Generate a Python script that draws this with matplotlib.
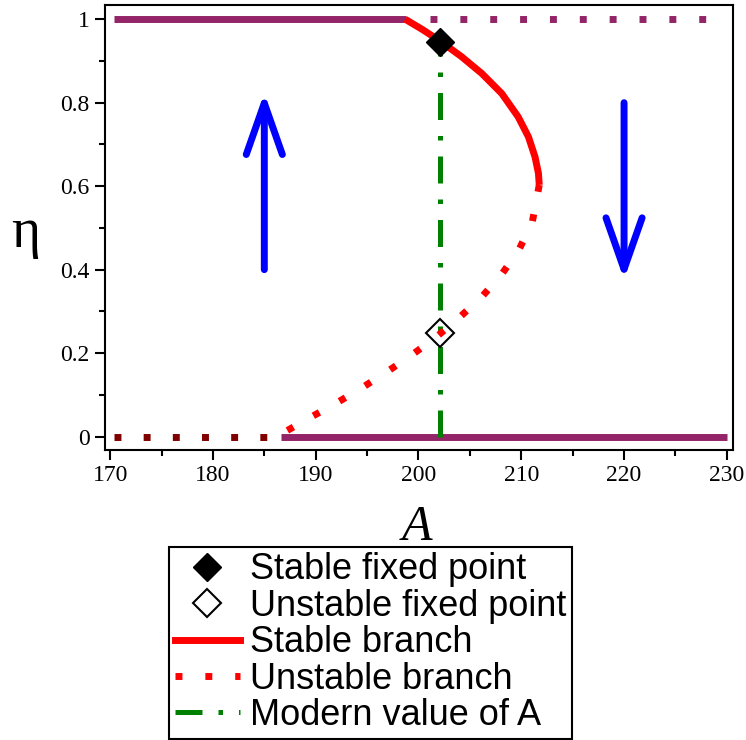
import matplotlib
matplotlib.use("Agg")
import matplotlib.pyplot as plt
from matplotlib.patches import FancyArrowPatch
from matplotlib.ticker import MultipleLocator

# branch data (A, eta)
stable_A = [198.7, 200.4, 202.2, 204.2, 206.16, 208.1, 209.7, 210.7, 211.34, 211.67, 211.75]
stable_eta = [1.0, 0.975, 0.946, 0.910, 0.870, 0.822, 0.766, 0.718, 0.670, 0.631, 0.603]
unstable_A = [211.75, 211.6, 211.08, 209.8, 208.1, 206.2, 204.05, 201.84, 199.43, 196.97, 194.5,
              191.98, 189.4, 186.9, 186.5]
unstable_eta = [0.603, 0.583, 0.515, 0.449, 0.389, 0.336, 0.287, 0.241, 0.197, 0.156, 0.117,
                0.080, 0.045, 0.010, 0.0]

top_solid_A = [170.4, 198.8]
top_dot_A = [201.1, 228.3]
bot_dot_A = [170.35, 185.8]
bot_solid_A = [186.6, 230.0]

A_modern = 202.1
eta_stable_fp = 0.946
eta_unstable_fp = 0.2475

purple = "#932468"
serif = "Liberation Serif"

fig = plt.figure(figsize=(7.46, 7.40), dpi=100)
ax = fig.add_axes([105/746, 1-450/740, (733-105)/746, (450-5)/740])

ax.plot(top_solid_A, [1, 1], color=purple, lw=5, solid_capstyle="butt")
ax.plot(top_dot_A, [1, 1], color=purple, lw=5, ls=(0, (1, 3.3)), dash_capstyle="butt")
ax.plot(bot_dot_A, [0, 0], color="#800000", lw=5, ls=(0, (1, 3.2)), dash_capstyle="butt")
ax.plot(bot_solid_A, [0, 0], color=purple, lw=5, solid_capstyle="butt")

ax.plot([A_modern, A_modern], [0, 0.94], color="#008000", lw=3.6,
        ls=(0, (5.4, 3.2, 0.9, 3.2)), dash_capstyle="butt")
ax.plot(stable_A, stable_eta, color="red", lw=5, solid_capstyle="butt", solid_joinstyle="round")
ax.plot(unstable_A, unstable_eta, color="red", lw=5, ls=(0, (1, 3.3)), dash_capstyle="butt")

ax.plot([A_modern], [eta_stable_fp], marker="D", ms=14, color="black", ls="none")
ax.plot([A_modern], [eta_unstable_fp], marker="D", ms=14, mfc="none", mec="black", mew=1.5, ls="none")

for x0, y0, y1 in [(185, 0.4, 0.824), (220, 0.8, 0.376)]:
    ax.add_patch(FancyArrowPatch((x0, y0), (x0, y1), arrowstyle="->,head_length=37,head_width=13",
                                 mutation_scale=1, lw=5, color="blue", shrinkA=0, shrinkB=0))

ax.set_xlim(169.5, 230.6)
ax.set_ylim(-0.032, 1.034)
ax.xaxis.set_minor_locator(MultipleLocator(5))
ax.yaxis.set_minor_locator(MultipleLocator(0.1))
ax.set_yticks([0, 0.2, 0.4, 0.6, 0.8, 1.0])
ax.set_yticklabels(["0", "0.2", "0.4", "0.6", "0.8", "1"], fontfamily=serif, fontsize=17)
ax.set_xticks([170, 180, 190, 200, 210, 220, 230])
ax.set_xticklabels(["170", "180", "190", "200", "210", "220", "230"], fontfamily=serif, fontsize=17)
ax.tick_params(which="major", direction="out", length=7, width=1.5, pad=4)
ax.tick_params(which="minor", direction="out", length=4, width=1.5)
for s in ax.spines.values():
    s.set_linewidth(1.5)

fig.text(26/746, 1-247/740, "η", fontfamily=serif, fontsize=40, ha="center", va="baseline")
fig.text(417/746, 1-540/740, "A", fontfamily=serif, fontstyle="italic", fontsize=36,
         ha="center", va="baseline")

h1, = ax.plot([], [], marker="D", ms=14, color="black", ls="none")
h2, = ax.plot([], [], marker="D", ms=14, mfc="none", mec="black", mew=1.5, ls="none")
h3, = ax.plot([], [], color="red", lw=5)
h4, = ax.plot([], [], color="red", lw=5, ls=(0, (1, 3.3)), dash_capstyle="butt")
h5, = ax.plot([], [], color="#008000", lw=3.6, ls=(0, (5.4, 3.2, 0.9, 3.2)), dash_capstyle="butt")
leg = fig.legend([h1, h2, h3, h4, h5],
                 ["Stable fixed point", "Unstable fixed point", "Stable branch",
                  "Unstable branch", "Modern value of A"],
                 loc="lower center", bbox_to_anchor=(0.497, 0.002),
                 prop={"family": "Liberation Sans", "size": 26},
                 frameon=True, fancybox=False, edgecolor="black", framealpha=1,
                 borderpad=0.15, labelspacing=0.04, handlelength=1.8, handletextpad=0.3,
                 borderaxespad=0)
leg.get_frame().set_linewidth(1.5)

fig.savefig("out.png", dpi=100)
